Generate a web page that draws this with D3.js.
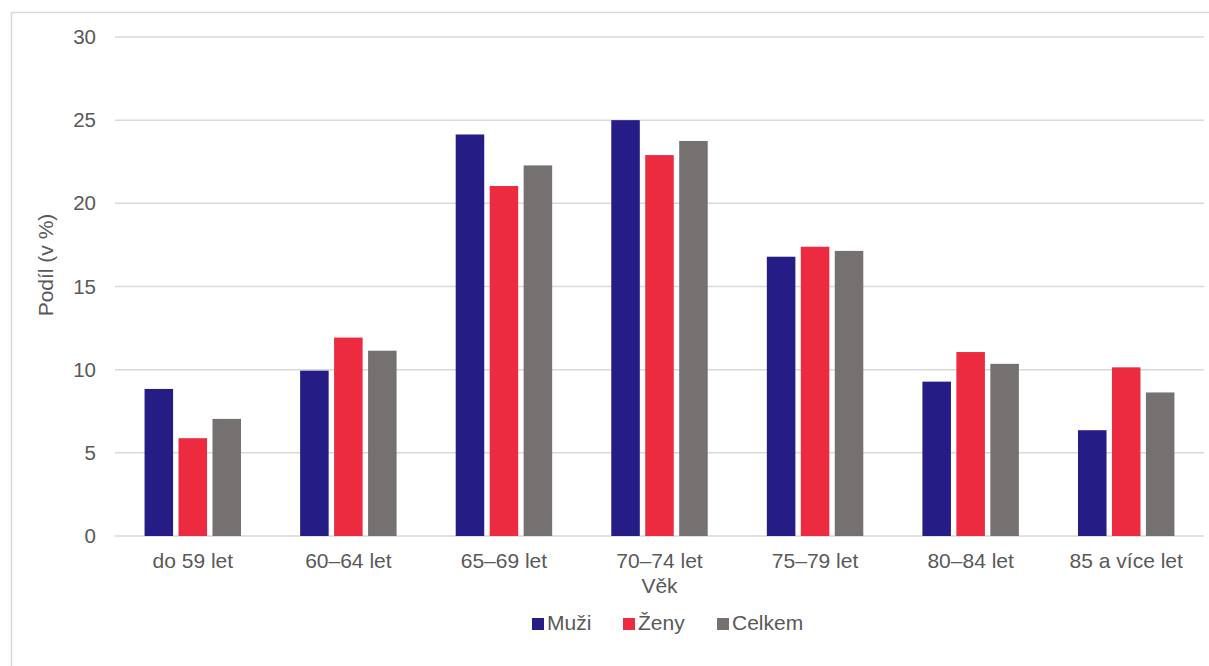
<!DOCTYPE html>
<html><head><meta charset="utf-8">
<script src="https://cdn.jsdelivr.net/npm/d3@7"></script>
<style>
html,body{margin:0;padding:0;background:#fff;}
text{font-family:"Liberation Sans",Arial,sans-serif;fill:#595959;}
</style></head>
<body><svg id="c" width="1209" height="666"></svg>
<script>
const categories = ["do 59 let","60–64 let","65–69 let","70–74 let","75–79 let","80–84 let","85 a více let"];
const seriesNames = ["Muži","Ženy","Celkem"];
const muzi   = [8.84, 9.94, 24.14, 25.0, 16.79, 9.28, 6.36];
const zeny   = [5.88, 11.93, 21.04, 22.9, 17.39, 11.06, 10.14];
const celkem = [7.04, 11.14, 22.28, 23.75, 17.14, 10.35, 8.63];
const yTicks = [0,5,10,15,20,25,30];
const colors = ["#251c85","#ec2a40","#767171"];

const values = [muzi, zeny, celkem];
const svg = d3.select("#c");
const L = 115, R = 1204, T = 37, B = 536;

svg.append("rect").attr("x",11.5).attr("y",12.5).attr("width",1300).attr("height",700)
  .attr("fill","none").attr("stroke","#d9d9d9").attr("stroke-width",1.5);

const x0 = d3.scaleBand().domain(categories).range([L,R]).paddingInner(0.38).paddingOuter(0.19);
const x1 = d3.scaleBand().domain(seriesNames).range([0,x0.bandwidth()]).paddingInner(0.16);
const y = d3.scaleLinear().domain([0,30]).range([B,T]);

svg.append("g").selectAll("line").data(yTicks).join("line")
  .attr("x1",L).attr("x2",R).attr("y1",d=>y(d)).attr("y2",d=>y(d))
  .attr("stroke","#d9d9d9").attr("stroke-width",1.5);

const yAxis = d3.axisLeft(y).tickValues(yTicks).tickSize(0).tickPadding(0);
const yg = svg.append("g").attr("transform",`translate(96,0)`).call(yAxis);
yg.select(".domain").remove();
yg.selectAll("text").attr("font-size",20.5).attr("font-family","Liberation Sans, Arial, sans-serif").attr("fill","#595959");

const groups = svg.append("g").selectAll("g").data(categories).join("g")
  .attr("transform",d=>`translate(${x0(d)},0)`);
groups.selectAll("rect").data((c,i)=>seriesNames.map((s,j)=>({s,j,v:values[j][i]}))).join("rect")
  .attr("x",d=>x1(d.s)).attr("width",x1.bandwidth())
  .attr("y",d=>y(d.v)).attr("height",d=>B-y(d.v))
  .attr("fill",d=>colors[d.j]);

const xAxis = d3.axisBottom(x0).tickSize(0).tickPadding(0);
const xg = svg.append("g").attr("transform",`translate(0,${B})`).call(xAxis);
xg.select(".domain").remove();
xg.selectAll("text").attr("font-size",21).attr("font-family","Liberation Sans, Arial, sans-serif")
  .attr("fill","#595959").attr("dy",null).attr("y",32);

svg.append("text").attr("x",(L+R)/2).attr("y",593).attr("text-anchor","middle").attr("font-size",21).text("Věk");
svg.append("text").attr("transform","translate(53,265) rotate(-90)").attr("text-anchor","middle").attr("font-size",21).text("Podíl (v %)");

const legX = [532,623,717];
const leg = svg.append("g").selectAll("g").data(seriesNames).join("g")
  .attr("transform",(d,i)=>`translate(${legX[i]},618)`);
leg.append("rect").attr("width",12).attr("height",12).attr("fill",(d,i)=>colors[i]);
leg.append("text").attr("x",15).attr("y",12).attr("font-size",21).text(d=>d);
</script></body></html>
